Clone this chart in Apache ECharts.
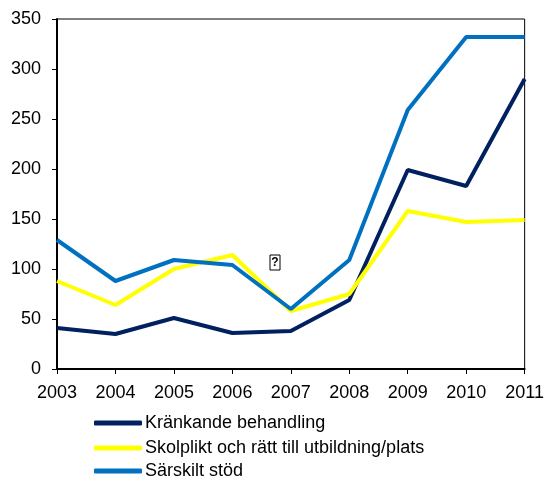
<!DOCTYPE html>
<html>
<head>
<meta charset="utf-8">
<script src="https://cdn.jsdelivr.net/npm/echarts@6/dist/echarts.min.js"></script>
<style>html,body{margin:0;padding:0;background:#fff}#c{width:547px;height:479px}</style>
</head>
<body>
<div id="c"></div>
<script>
const years = ['2003','2004','2005','2006','2007','2008','2009','2010','2011'];
const krankande = [41, 35, 51, 36, 38, 69, 199, 183, 290];
const skolplikt = [88, 64, 100, 114, 58, 75, 158, 147, 149];
const sarskilt = [129, 88, 109, 104, 60, 109, 259, 332, 332];
const seriesNames = ['Kränkande behandling', 'Skolplikt och rätt till utbildning/plats', 'Särskilt stöd'];
const colors = ['#002060', '#FFFF00', '#0070C0'];

const chart = echarts.init(document.getElementById('c'), null, {renderer: 'canvas'});
const font = 'Liberation Sans, Arial, sans-serif';
const mk = (name, data, color) => ({
  name, type: 'line', data, symbol: 'none', smooth: false,
  lineStyle: {color, width: 4}, itemStyle: {color}, z: 3
});
const legendTops = [409, 434, 457];
chart.setOption({
  animation: false,
  backgroundColor: '#fff',
  grid: {left: 57, right: 19, top: 19, bottom: 110, show: true, borderColor: '#000', borderWidth: 1},
  legend: seriesNames.map((n, i) => ({
    orient: 'vertical', left: 89, top: legendTops[i], itemWidth: 48, itemHeight: 5, itemGap: 0,
    icon: 'roundRect',
    textStyle: {fontFamily: font, fontSize: 18, lineHeight: 18, color: '#000', padding: [0,0,0,-2]},
    data: [n]
  })),
  xAxis: {
    type: 'category', data: years, boundaryGap: false,
    axisLine: {lineStyle: {color: '#000', width: 2}},
    axisTick: {show: true, length: 5, lineStyle: {color: '#000'}},
    axisLabel: {fontFamily: font, fontSize: 18, color: '#000', margin: 15, interval: 0},
    splitLine: {show: false}
  },
  yAxis: {
    type: 'value', min: 0, max: 350, interval: 50,
    axisLine: {show: true, lineStyle: {color: '#000', width: 2}},
    axisTick: {show: true, length: 5, lineStyle: {color: '#000'}},
    axisLabel: {fontFamily: font, fontSize: 18, color: '#000', margin: 16},
    splitLine: {show: false}
  },
  graphic: [
    {type: 'rect', shape: {x: 270, y: 255, width: 10, height: 15}, style: {fill: '#fff', stroke: '#000', lineWidth: 1}},
    {type: 'text', style: {x: 275, y: 263, text: '?', font: 'bold 12px ' + font, fill: '#000', textAlign: 'center', textVerticalAlign: 'middle'}}
  ],
  series: [
    mk(seriesNames[0], krankande, colors[0]),
    mk(seriesNames[1], skolplikt, colors[1]),
    mk(seriesNames[2], sarskilt, colors[2])
  ]
});
</script>
</body>
</html>
